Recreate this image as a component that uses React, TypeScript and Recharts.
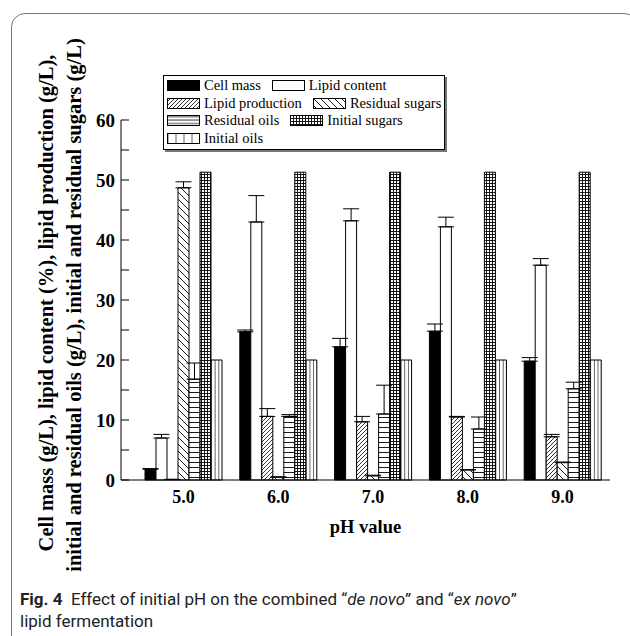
import { BarChart, Bar, XAxis, YAxis, ErrorBar, Legend } from 'recharts';

const phValues = ['5.0', '6.0', '7.0', '8.0', '9.0'];

const cellMass = [1.8, 24.7, 22.2, 24.8, 19.8];
const cellMassErr = [0.1, 0.3, 1.4, 1.2, 0.6];
const lipidContent = [7.0, 43.0, 43.2, 42.2, 35.8];
const lipidContentErr = [0.6, 4.4, 2.0, 1.6, 1.1];
const lipidProduction = [0.1, 10.6, 9.7, 10.5, 7.2];
const lipidProductionErr = [0, 1.3, 0.9, 0.1, 0.4];
const residualSugars = [48.7, 0.5, 0.7, 1.7, 2.9];
const residualSugarsErr = [1.0, 0, 0.1, 0, 0.1];
const residualOils = [16.8, 10.6, 11.0, 8.5, 15.2];
const residualOilsErr = [2.7, 0.3, 4.8, 2.0, 1.1];
const initialSugars = [51.3, 51.3, 51.3, 51.3, 51.3];
const initialOils = [20, 20, 20, 20, 20];

const yTicks = [0, 5, 10, 15, 20, 25, 30, 35, 40, 45, 50, 55, 60];

const data = phValues.map((ph, i) => ({
  ph,
  cellMass: cellMass[i],
  cellMassErr: [0, cellMassErr[i]],
  lipidContent: lipidContent[i],
  lipidContentErr: [0, lipidContentErr[i]],
  lipidProduction: lipidProduction[i],
  lipidProductionErr: [0, lipidProductionErr[i]],
  residualSugars: residualSugars[i],
  residualSugarsErr: [0, residualSugarsErr[i]],
  residualOils: residualOils[i],
  residualOilsErr: [0, residualOilsErr[i]],
  initialSugars: initialSugars[i],
  initialOils: initialOils[i],
}));

const SERIES = [
  { key: 'cellMass', name: 'Cell mass', fill: '#000', legendFill: '#000', err: 'cellMassErr' },
  { key: 'lipidContent', name: 'Lipid content', fill: '#fff', legendFill: '#fff', err: 'lipidContentErr' },
  { key: 'lipidProduction', name: 'Lipid production', fill: 'url(#pFwd)', legendFill: 'url(#pFwd)', err: 'lipidProductionErr' },
  { key: 'residualSugars', name: 'Residual sugars', fill: 'url(#pBack)', legendFill: 'url(#pBack)', err: 'residualSugarsErr' },
  { key: 'residualOils', name: 'Residual oils', fill: 'url(#pHoriz)', legendFill: 'url(#pHorizL)', err: 'residualOilsErr' },
  { key: 'initialSugars', name: 'Initial sugars', fill: 'url(#pGrid)', legendFill: 'url(#pGrid)', err: null },
  { key: 'initialOils', name: 'Initial oils', fill: 'url(#pVert)', legendFill: 'url(#pVertL)', err: null },
];

const LEGEND_ROWS = [
  ['cellMass', 'lipidContent'],
  ['lipidProduction', 'residualSugars'],
  ['residualOils', 'initialSugars'],
  ['initialOils'],
];

const SERIF = '"Liberation Serif", "Times New Roman", serif';

const Patterns = () => (
  <svg width={0} height={0} style={{ position: 'absolute' }}>
    <defs>
      <pattern id="pFwd" patternUnits="userSpaceOnUse" width={4} height={4}>
        <rect width={4} height={4} fill="#fff" />
        <path d="M-1,1 L1,-1 M0,4 L4,0 M3,5 L5,3" stroke="#000" strokeWidth={0.8} />
      </pattern>
      <pattern id="pBack" patternUnits="userSpaceOnUse" width={7} height={7}>
        <rect width={7} height={7} fill="#fff" />
        <path d="M0,0 L7,7 M-1,6 L1,8 M6,-1 L8,1" stroke="#000" strokeWidth={0.9} />
      </pattern>
      <pattern id="pHoriz" patternUnits="userSpaceOnUse" width={5} height={5}>
        <rect width={5} height={5} fill="#fff" />
        <path d="M0,2.5 L5,2.5" stroke="#000" strokeWidth={0.9} />
      </pattern>
      <pattern id="pHorizL" patternUnits="userSpaceOnUse" width={5} height={3.4}>
        <rect width={5} height={3.4} fill="#fff" />
        <path d="M0,1.7 L5,1.7" stroke="#000" strokeWidth={0.8} />
      </pattern>
      <pattern id="pGrid" patternUnits="userSpaceOnUse" width={3} height={3}>
        <rect width={3} height={3} fill="#fff" />
        <path d="M0,0.5 L3,0.5 M0.5,0 L0.5,3" stroke="#000" strokeWidth={0.9} />
      </pattern>
      <pattern id="pVert" patternUnits="objectBoundingBox" width={0.3333} height={1}>
        <rect width={20} height={1000} fill="#fff" />
        <path d="M0,0 L0,1000" stroke="#000" strokeWidth={1.2} />
      </pattern>
      <pattern id="pVertL" patternUnits="objectBoundingBox" width={0.25} height={1}>
        <rect width={20} height={100} fill="#fff" />
        <path d="M0,0 L0,100" stroke="#000" strokeWidth={1.2} />
      </pattern>
    </defs>
  </svg>
);

const renderLegend = () => (
  <div
    style={{
      border: '1px solid #000',
      boxShadow: '2px 2px 0 #777',
      background: '#fff',
      padding: '1px 3px 2px 3px',
      fontFamily: SERIF,
      fontSize: 14.5,
      color: '#000',
      lineHeight: '17.5px',
    }}
  >
    {LEGEND_ROWS.map((row, r) => (
      <div key={r} style={{ display: 'flex', alignItems: 'center', whiteSpace: 'nowrap' }}>
        {row.map((k, j) => {
          const s = SERIES.find((x) => x.key === k)!;
          return (
            <span key={k} style={{ display: 'inline-flex', alignItems: 'center', marginLeft: j ? 11 : 0 }}>
              <svg width={33} height={11} style={{ display: 'block' }}>
                <rect x={0.5} y={0.5} width={32} height={10} fill={s.legendFill} stroke="#000" strokeWidth={1} />
              </svg>
              <span style={{ marginLeft: 4 }}>{s.name}</span>
            </span>
          );
        })}
      </div>
    ))}
  </div>
);

const YTick = (props: any) => {
  const { x, y, payload } = props;
  return (
    <g>
      <line x1={x} x2={x + 8} y1={y} y2={y} stroke="#000" strokeWidth={1} />
      {payload.value % 10 === 0 && (
        <text x={x - 6} y={y} dy={6.5} textAnchor="end" fill="#000" fontFamily={SERIF} fontSize={19} fontWeight="bold">
          {payload.value}
        </text>
      )}
    </g>
  );
};

const YLabel = () => {
  const common = {
    textAnchor: 'middle' as const,
    fill: '#000',
    fontFamily: SERIF,
    fontSize: 20.5,
    fontWeight: 'bold' as const,
  };
  return (
    <g>
      <text x={53} y={303} transform="rotate(-90, 53, 303)" {...common}>
        Cell mass (g/L), lipid content (%), lipid production (g/L),
      </text>
      <text x={81} y={305} transform="rotate(-90, 81, 305)" {...common}>
        initial and residual oils (g/L), initial and residual sugars (g/L)
      </text>
    </g>
  );
};

const XLabel = (props: any) => {
  const { viewBox } = props;
  return (
    <text
      x={viewBox.x + viewBox.width / 2}
      y={viewBox.y + 53}
      textAnchor="middle"
      fill="#000"
      fontFamily={SERIF}
      fontSize={18.5}
      fontWeight="bold"
    >
      pH value
    </text>
  );
};

export default function App() {
  return (
    <div
      style={{
        position: 'absolute',
        left: 0,
        top: 0,
        width: 630,
        height: 636,
        overflow: 'hidden',
        background: '#fff',
      }}
    >
      <Patterns />
      <div
        style={{
          position: 'absolute',
          left: 11,
          top: 13,
          width: 627,
          height: 680,
          boxSizing: 'border-box',
          border: '1.5px solid #777',
          borderRadius: 14,
        }}
      />
      <div style={{ position: 'absolute', left: 0, top: 0 }}>
        <BarChart
          width={630}
          height={590}
          data={data}
          margin={{ top: 120, right: 20, left: 61, bottom: 80 }}
          barCategoryGap={9}
          barGap={0}
        >
          <XAxis
            dataKey="ph"
            height={30}
            padding={{ left: 15, right: 0 }}
            tickLine={false}
            tickSize={0}
            tickMargin={10}
            axisLine={{ stroke: '#000', strokeWidth: 1 }}
            tick={{ fill: '#000', fontSize: 18, fontWeight: 'bold', fontFamily: SERIF }}
            label={<XLabel />}
          />
          <YAxis
            width={60}
            domain={[0, 60]}
            ticks={yTicks}
            interval={0}
            tickLine={false}
            tickSize={0}
            tickMargin={0}
            axisLine={{ stroke: '#000', strokeWidth: 1 }}
            tick={<YTick />}
            label={<YLabel />}
          />
          <Legend
            layout="horizontal"
            align="center"
            verticalAlign="middle"
            content={renderLegend}
            wrapperStyle={{ left: 163, top: 75, width: 'auto', height: 'auto' }}
          />
          {SERIES.map((s) => (
            <Bar
              key={s.key}
              dataKey={s.key}
              name={s.name}
              fill={s.fill}
              stroke="#000"
              strokeWidth={1}
              isAnimationActive={false}
            >
              {s.err && (
                <ErrorBar
                  dataKey={s.err}
                  direction="y"
                  width={8}
                  stroke="#000"
                  strokeWidth={1}
                  isAnimationActive={false}
                />
              )}
            </Bar>
          ))}
        </BarChart>
      </div>
      <div
        style={{
          position: 'absolute',
          left: 20,
          top: 588,
          fontFamily: 'Roboto, sans-serif',
          fontSize: 17,
          lineHeight: '22px',
          color: '#222',
          whiteSpace: 'nowrap',
        }}
      >
        <b>Fig. 4</b>&nbsp; Effect of initial pH on the combined “<i>de novo</i>” and “<i>ex novo</i>”
        <br />
        lipid fermentation
      </div>
    </div>
  );
}
